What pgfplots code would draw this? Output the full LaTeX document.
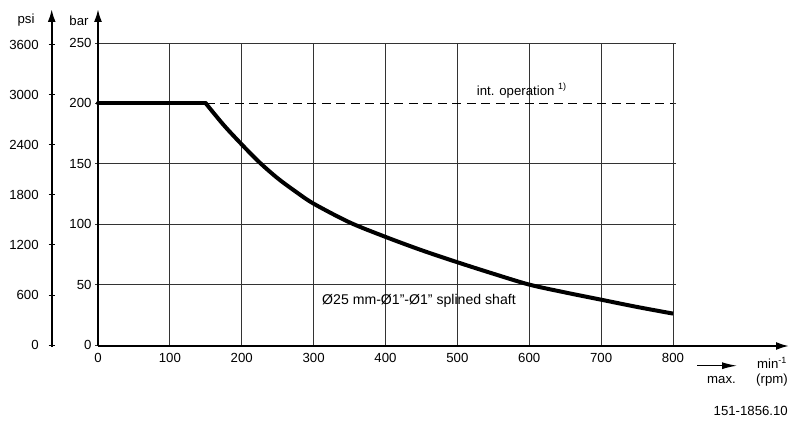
\documentclass[border=0pt]{standalone}
\usepackage{pgfplots}
\pgfplotsset{compat=1.18}
\usepackage{fontspec}
\setmainfont{Liberation Sans}
\usetikzlibrary{arrows.meta}

\pgfplotstableread{
x y
0 200
150 200
}\flat
\pgfplotstableread{
x y
150 200
175 182
200 166
225 151
250 138
275 127
300 117
350 101.5
400 89.5
450 78.5
500 68.5
550 59
600 50
650 43.5
700 37.5
750 31.5
800 26
}\curve

\begin{document}
\begin{tikzpicture}[x=1bp,y=1bp,font=\fontsize{13.2bp}{15bp}\selectfont]
\path[use as bounding box] (0,0) rectangle (791,422);
% psi axis
\begin{axis}[at={(51.7bp,77bp)}, anchor=south west, scale only axis,
  width=1bp, height=302bp, xmin=0, xmax=1, ymin=0, ymax=3620,
  hide x axis, axis y line*=left, y axis line style={draw=none},
  ytick={0,600,...,3600}, tick align=center, major tick length=6bp,
  ytick style={black, line width=0.8bp},
  scaled ticks=false,
  yticklabel style={font=\fontsize{13.2bp}{15bp}\selectfont, anchor=east, xshift=-6.5bp},
  /pgf/number format/1000 sep={}, /pgf/number format/assume math mode=true]
\end{axis}
% main axis
\begin{axis}[at={(98bp,77bp)}, anchor=south west, scale only axis,
  width=575bp, height=302bp, xmin=0, xmax=800, ymin=0, ymax=250,
  xtick={0,100,...,800}, ytick={0,50,100,150,250},
  extra y ticks={200}, extra y tick style={grid=none},
  grid=major, grid style={black!80, line width=0.8bp},
  axis line style={draw=none},
  xtick style={draw=none}, ytick style={black!80, line width=0.8bp},
  tick align=outside, major tick length=3bp,
  scaled ticks=false,
  ticklabel style={font=\fontsize{13.2bp}{15bp}\selectfont},
  xticklabel style={yshift=-1.5bp},
  /pgf/number format/1000 sep={}, /pgf/number format/assume math mode=true,
  clip=false]
\addplot[black, line width=1.3bp, dash pattern=on 9bp off 5.5bp] coordinates {(150,200) (800,200)};
\addplot[black, line width=4bp, line cap=round] table[x=x,y=y] {\flat};
\addplot[black, line width=4bp, smooth, tension=0.5, line cap=butt, line join=round] table[x=x,y=y] {\curve};
\end{axis}
% axis arrows
\draw[line width=2bp, -{Latex[length=13bp,width=8bp]}] (98,76) -- (789,76);
\draw[line width=2bp, -{Latex[length=13bp,width=8bp]}] (98,76) -- (98,413);
\draw[line width=2bp, -{Latex[length=13bp,width=8bp]}] (51.7,75) -- (51.7,413);
% labels
\node[anchor=base, inner sep=0] at (26,398) {psi};
\node[anchor=base, inner sep=0] at (79,396) {bar};
\draw[line width=1.2bp, -{Latex[length=15bp,width=7bp]}] (697,56.3) -- (737,56.3);
\node[anchor=base, inner sep=0] at (721.5,39) {max.};
\node[anchor=base west, inner sep=0] at (757,54) {min\raisebox{5bp}{\fontsize{9bp}{10bp}\selectfont -1}};
\node[anchor=base west, inner sep=0] at (756,39) {(rpm)};
\node[anchor=base east, inner sep=0] at (788,7) {151-1856.10};
\node[anchor=base west, inner sep=0] at (476.7,326.3) {int. operation \raisebox{6bp}{\fontsize{9bp}{10bp}\selectfont 1)}};
\node[anchor=base west, inner sep=0, font=\fontsize{14.1bp}{16bp}\selectfont] at (322,117.7) {Ø25 mm-Ø1\symbol{34}-Ø1\symbol{34} splined shaft};
\end{tikzpicture}
\end{document}
